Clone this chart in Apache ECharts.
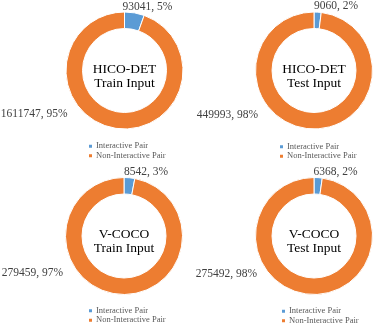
<!DOCTYPE html>
<html>
<head>
<meta charset="utf-8">
<script src="https://cdn.jsdelivr.net/npm/echarts@6/dist/echarts.min.js"></script>
<style>html,body{margin:0;padding:0;background:#fff}#c{width:374px;height:329px}</style>
</head>
<body>
<div id="c"></div>
<script>
const titles = ['HICO-DET\nTrain Input', 'HICO-DET\nTest Input', 'V-COCO\nTrain Input', 'V-COCO\nTest Input'];
const categories = ['Interactive Pair', 'Non-Interactive Pair'];
const interactive = [93041, 9060, 8542, 6368];
const nonInteractive = [1611747, 449993, 279459, 275492];

const colors = ['#5B9BD5', '#ED7D31'];
const centers = [[124.5, 70.5], [314, 70.5], [124, 236], [314, 236]];
const legendPos = [[87, 141.5], [278, 142], [87, 306], [280, 306.5]];
// label anchor offsets relative to center: [small label centre dx, dy], [big label right dx, dy]
const smallOff = [[23, -63.5], [22, -64.5], [22, -64], [21.5, -64]];
const bigOff = [[-57, 43.5], [-56, 44.5], [-61, 37], [-57, 38]];
const FONT = '"Liberation Serif", "Times New Roman", serif';

const chart = echarts.init(document.getElementById('c'), null, {renderer: 'canvas'});
const series = [], legends = [], graphics = [];
titles.forEach((t, i) => {
  const c = centers[i];
  series.push({
    type: 'pie',
    center: c,
    radius: [42, 58.5],
    startAngle: 90,
    clockwise: true,
    percentPrecision: 0,
    avoidLabelOverlap: false,
    animation: false,
    silent: true,
    itemStyle: {borderColor: '#fff', borderWidth: 1},
    label: {
      show: true, position: 'outside', formatter: '{c}, {d}%',
      fontFamily: FONT, fontSize: 11.5, color: '#404040'
    },
    labelLine: {show: false},
    labelLayout: (function (ci, so, bo) {
      return function (p) {
        if (p.dataIndex === 0) {
          return {x: ci[0] + so[0], y: ci[1] + so[1], align: 'center', verticalAlign: 'middle'};
        }
        return {x: ci[0] + bo[0], y: ci[1] + bo[1], align: 'right', verticalAlign: 'middle'};
      };
    })(c, smallOff[i], bigOff[i]),
    data: [
      {name: categories[0], value: interactive[i], itemStyle: {color: colors[0]}},
      {name: categories[1], value: nonInteractive[i], itemStyle: {color: colors[1]}}
    ]
  });
  legends.push({
    data: categories,
    orient: 'vertical',
    left: legendPos[i][0], top: legendPos[i][1],
    padding: 0, itemGap: 0,
    itemWidth: 5, itemHeight: 5,
    icon: 'rect',
    selectedMode: false,
    textStyle: {fontFamily: FONT, fontSize: 8.5, color: '#595959', lineHeight: 9.5, padding: [0, 0, 0, -2]}
  });
  graphics.push({
    type: 'text',
    x: c[0], y: c[1] + 5.5,
    silent: true,
    style: {
      text: t, align: 'center', verticalAlign: 'middle',
      font: '13.5px ' + FONT, lineHeight: 14, fill: '#000'
    }
  });
});

chart.setOption({
  animation: false,
  color: colors,
  legend: legends,
  series: series,
  graphic: graphics
});
</script>
</body>
</html>
